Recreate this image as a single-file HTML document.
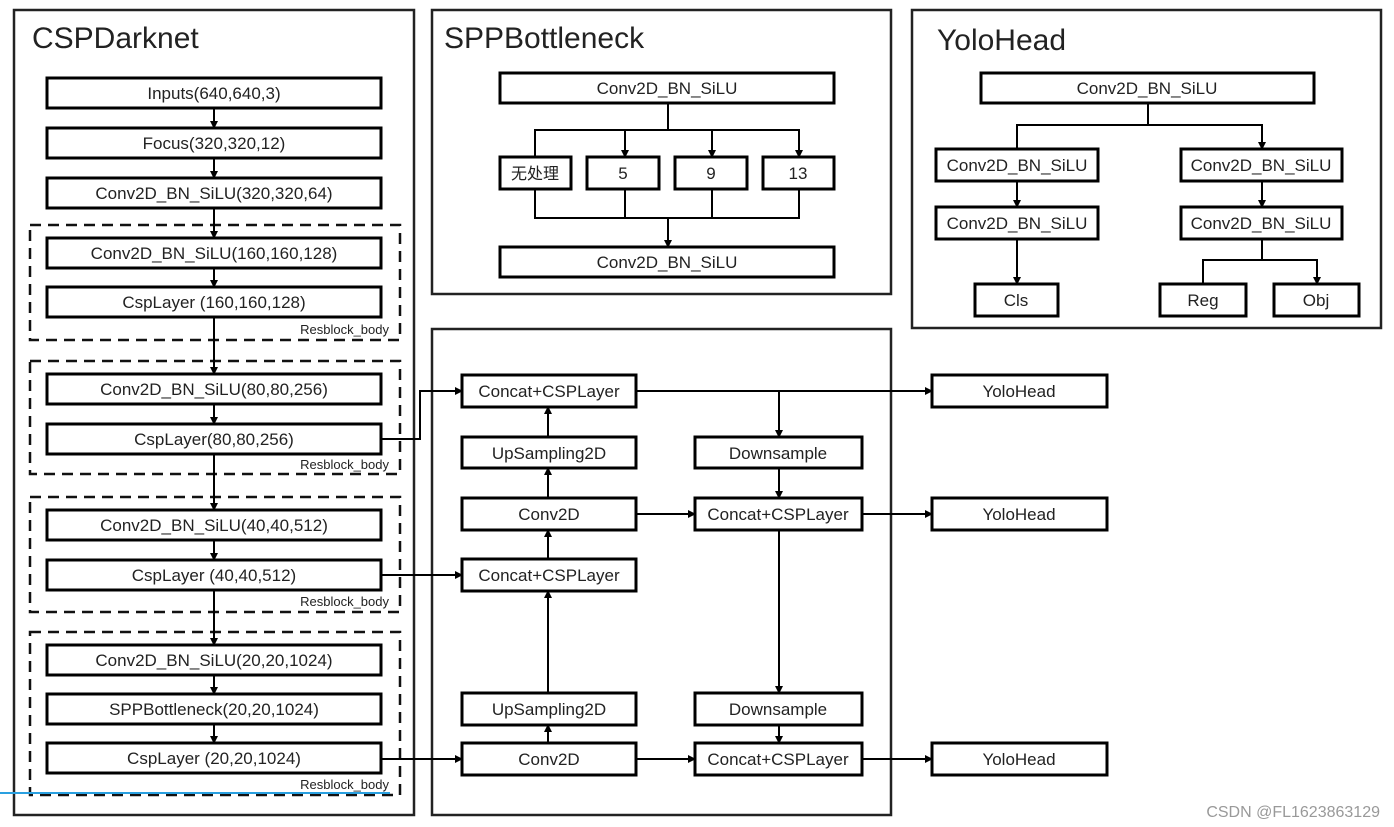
<!DOCTYPE html>
<html><head><meta charset="utf-8"><style>
html,body{margin:0;padding:0;background:#fff;}
svg{display:block;}
text{font-family:"Liberation Sans","Noto Sans CJK SC",sans-serif;fill:#222;}
</style></head><body>
<svg width="1394" height="827" viewBox="0 0 1394 827" xmlns="http://www.w3.org/2000/svg">
<defs><marker id="a" markerWidth="8" markerHeight="8" refX="7" refY="4" orient="auto" markerUnits="userSpaceOnUse"><path d="M0,0 L8,4 L0,8 z" fill="#000"/></marker></defs>
<rect width="1394" height="827" fill="#fff"/>
<g fill="none" stroke="#222" stroke-width="2.5">
<rect x="14" y="10" width="400" height="805"/>
<rect x="432" y="10" width="459" height="284"/>
<rect x="912" y="10" width="469" height="318"/>
<rect x="432" y="329" width="459" height="486"/>
</g>
<g font-size="30"><text x="32" y="48">CSPDarknet</text><text x="444" y="48">SPPBottleneck</text><text x="937" y="50">YoloHead</text></g>
<g fill="none" stroke="#111" stroke-width="2.5" stroke-dasharray="11,7">
<rect x="30" y="225" width="370" height="115"/><rect x="30" y="361" width="370" height="113"/>
<rect x="30" y="497" width="370" height="115"/><rect x="30" y="632" width="370" height="163"/>
</g>
<g font-size="13" text-anchor="end"><text x="389" y="334">Resblock_body</text><text x="389" y="469">Resblock_body</text><text x="389" y="606">Resblock_body</text><text x="389" y="789">Resblock_body</text></g>
<g stroke="#000" stroke-width="2" fill="none" marker-end="url(#a)">
<line x1="214" y1="108" x2="214" y2="128"/><line x1="214" y1="158" x2="214" y2="178"/><line x1="214" y1="208" x2="214" y2="238"/>
<line x1="214" y1="268" x2="214" y2="287"/><line x1="214" y1="317" x2="214" y2="374"/><line x1="214" y1="404" x2="214" y2="424"/>
<line x1="214" y1="454" x2="214" y2="510"/><line x1="214" y1="540" x2="214" y2="560"/><line x1="214" y1="590" x2="214" y2="645"/>
<line x1="214" y1="675" x2="214" y2="694"/><line x1="214" y1="724" x2="214" y2="743"/>
<polyline points="381,439 420,439 420,391 462,391"/><line x1="381" y1="575" x2="462" y2="575"/><line x1="381" y1="759" x2="462" y2="759"/>
<line x1="548" y1="743" x2="548" y2="725"/><line x1="548" y1="693" x2="548" y2="591"/><line x1="548" y1="559" x2="548" y2="530"/>
<line x1="548" y1="498" x2="548" y2="468"/><line x1="548" y1="437" x2="548" y2="407"/>
<line x1="636" y1="391" x2="932" y2="391"/><line x1="779" y1="391" x2="779" y2="437"/><line x1="779" y1="468" x2="779" y2="498"/>
<line x1="636" y1="514" x2="695" y2="514"/><line x1="862" y1="514" x2="932" y2="514"/><line x1="779" y1="530" x2="779" y2="693"/>
<line x1="779" y1="725" x2="779" y2="743"/><line x1="636" y1="759" x2="695" y2="759"/><line x1="862" y1="759" x2="932" y2="759"/>
<polyline points="535,157 535,130 799,130 799,157"/><line x1="625" y1="130" x2="625" y2="157"/><line x1="712" y1="130" x2="712" y2="157"/>
<line x1="668" y1="218" x2="668" y2="247"/>
<polyline points="1017,149 1017,125 1262,125 1262,149"/><line x1="1017" y1="181" x2="1017" y2="207"/><line x1="1262" y1="181" x2="1262" y2="207"/>
<line x1="1017" y1="239" x2="1017" y2="284"/><polyline points="1203,284 1203,260 1317,260 1317,284"/>
</g>
<g stroke="#000" stroke-width="2" fill="none">
<line x1="668" y1="103" x2="668" y2="130"/><polyline points="535,189 535,218 799,218 799,189"/><line x1="625" y1="189" x2="625" y2="218"/><line x1="712" y1="189" x2="712" y2="218"/>
<line x1="1148" y1="103" x2="1148" y2="125"/><line x1="1262" y1="239" x2="1262" y2="260"/>
</g>
<g fill="#fff" stroke="#000" stroke-width="3">
<rect x="47" y="78" width="334" height="30"/><rect x="47" y="128" width="334" height="30"/><rect x="47" y="178" width="334" height="30"/>
<rect x="47" y="238" width="334" height="30"/><rect x="47" y="287" width="334" height="30"/>
<rect x="47" y="374" width="334" height="30"/><rect x="47" y="424" width="334" height="30"/>
<rect x="47" y="510" width="334" height="30"/><rect x="47" y="560" width="334" height="30"/>
<rect x="47" y="645" width="334" height="30"/><rect x="47" y="694" width="334" height="30"/><rect x="47" y="743" width="334" height="30"/>
<rect x="500" y="73" width="334" height="30"/><rect x="500" y="157" width="71" height="32"/><rect x="587" y="157" width="72" height="32"/>
<rect x="675" y="157" width="72" height="32"/><rect x="763" y="157" width="71" height="32"/><rect x="500" y="247" width="334" height="30"/>
<rect x="981" y="73" width="333" height="30"/><rect x="936" y="149" width="162" height="32"/><rect x="1181" y="149" width="161" height="32"/>
<rect x="936" y="207" width="162" height="32"/><rect x="1181" y="207" width="161" height="32"/>
<rect x="975" y="284" width="83" height="32"/><rect x="1160" y="284" width="86" height="32"/><rect x="1274" y="284" width="85" height="32"/>
<rect x="462" y="375" width="174" height="32"/><rect x="462" y="437" width="174" height="31"/><rect x="462" y="498" width="174" height="32"/>
<rect x="462" y="559" width="174" height="32"/><rect x="462" y="693" width="174" height="32"/><rect x="462" y="743" width="174" height="32"/>
<rect x="695" y="437" width="167" height="31"/><rect x="695" y="498" width="167" height="32"/><rect x="695" y="693" width="167" height="32"/><rect x="695" y="743" width="167" height="32"/>
<rect x="932" y="375" width="175" height="32"/><rect x="932" y="498" width="175" height="32"/><rect x="932" y="743" width="175" height="32"/>
</g>
<g font-size="17" text-anchor="middle">
<text x="214" y="99">Inputs(640,640,3)</text><text x="214" y="149">Focus(320,320,12)</text><text x="214" y="199">Conv2D_BN_SiLU(320,320,64)</text>
<text x="214" y="259">Conv2D_BN_SiLU(160,160,128)</text><text x="214" y="308">CspLayer (160,160,128)</text>
<text x="214" y="395">Conv2D_BN_SiLU(80,80,256)</text><text x="214" y="445">CspLayer(80,80,256)</text>
<text x="214" y="531">Conv2D_BN_SiLU(40,40,512)</text><text x="214" y="581">CspLayer (40,40,512)</text>
<text x="214" y="666">Conv2D_BN_SiLU(20,20,1024)</text><text x="214" y="715">SPPBottleneck(20,20,1024)</text><text x="214" y="764">CspLayer (20,20,1024)</text>
<text x="667" y="94">Conv2D_BN_SiLU</text><text x="535" y="179" font-size="16">无处理</text><text x="623" y="179">5</text><text x="711" y="179">9</text><text x="798" y="179">13</text>
<text x="667" y="268">Conv2D_BN_SiLU</text>
<text x="1147" y="94">Conv2D_BN_SiLU</text><text x="1017" y="171">Conv2D_BN_SiLU</text><text x="1261" y="171">Conv2D_BN_SiLU</text>
<text x="1017" y="229">Conv2D_BN_SiLU</text><text x="1261" y="229">Conv2D_BN_SiLU</text>
<text x="1016" y="306">Cls</text><text x="1203" y="306">Reg</text><text x="1316" y="306">Obj</text>
<text x="549" y="397">Concat+CSPLayer</text><text x="549" y="459">UpSampling2D</text><text x="549" y="520">Conv2D</text>
<text x="549" y="581">Concat+CSPLayer</text><text x="549" y="715">UpSampling2D</text><text x="549" y="765">Conv2D</text>
<text x="778" y="459">Downsample</text><text x="778" y="520">Concat+CSPLayer</text><text x="778" y="715">Downsample</text><text x="778" y="765">Concat+CSPLayer</text>
<text x="1019" y="397">YoloHead</text><text x="1019" y="520">YoloHead</text><text x="1019" y="765">YoloHead</text>
</g>
<text x="1380" y="817" font-size="16" text-anchor="end" style="fill:#999">CSDN @FL1623863129</text>
<line x1="0" y1="793" x2="390" y2="793" stroke="#2aa0e0" stroke-width="2"/>
</svg>
</body></html>
